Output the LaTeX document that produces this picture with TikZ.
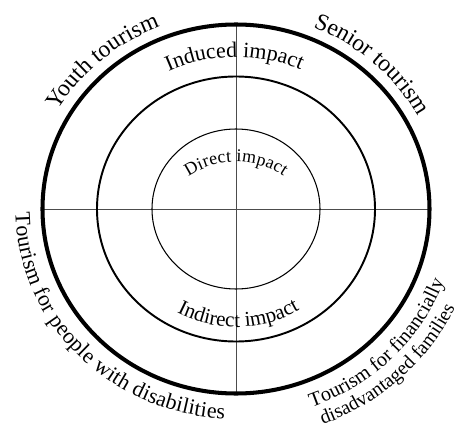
\documentclass[tikz,border=0pt]{standalone}
\usepackage{fontspec}
\setmainfont{Liberation Serif}
\usetikzlibrary{decorations.text,calc}
\begin{document}
\begin{tikzpicture}[line cap=butt,
ring/.style={draw,line width=#1},
crossline/.style={draw,black!70,line width=0.5pt},
arclabel/.style 2 args={decorate,decoration={text along path,text align={fit to path},
  text={|\fontsize{#1}{#1}\selectfont|#2}}}]
\useasboundingbox (-4.72,-4.42) rectangle (4.40,4.18);
\coordinate (c) at (0,0);
% axes through the rings
\draw[crossline] (-3.87,0) -- (3.87,0);
\draw[crossline] (0,-3.69) -- (0,3.69);
% rings
\draw[ring=2.3pt] (c) ellipse [x radius=3.87cm, y radius=3.69cm];
\draw[ring=1.1pt] (c) ellipse [x radius=2.78cm, y radius=2.65cm];
\draw[ring=0.6pt] (c) ellipse [x radius=1.68cm, y radius=1.60cm];
% impact labels
\path[arclabel={12.5}{Induced impact}] (115:3.19cm and 3.04cm)
  arc [start angle=115, end angle=66, x radius=3.19cm, y radius=3.04cm];
\path[arclabel={10.2}{Direct impact}] ($(0,-0.76)+(124:1.70)$)
  arc [start angle=124, end angle=56, radius=1.70cm];
\path[arclabel={12}{Indirect impact}] (241.5:2.48cm and 2.36cm)
  arc [start angle=241.5, end angle=300, x radius=2.48cm, y radius=2.36cm];
% tourism labels
\path[arclabel={13.5}{{Yo}uth tourism}] (150:4.12cm and 3.92cm)
  arc [start angle=150, end angle=112, x radius=4.12cm, y radius=3.92cm];
\path[arclabel={13.5}{Senior tourism}] (68:4.12cm and 3.92cm)
  arc [start angle=68, end angle=30.5, x radius=4.12cm, y radius=3.92cm];
\path[arclabel={12.5}{Tourism for people with disabilities}] (181:4.41cm and 4.20cm)
  arc [start angle=181, end angle=267, x radius=4.41cm, y radius=4.20cm];
\path[arclabel={11.5}{Tourism for financially}] (290:4.43cm and 4.22cm)
  arc [start angle=290, end angle=339.5, x radius=4.43cm, y radius=4.22cm];
\path[arclabel={11.2}{disadvantaged families}] (291:4.85cm and 4.62cm)
  arc [start angle=291, end angle=334, x radius=4.85cm, y radius=4.62cm];
\end{tikzpicture}
\end{document}
